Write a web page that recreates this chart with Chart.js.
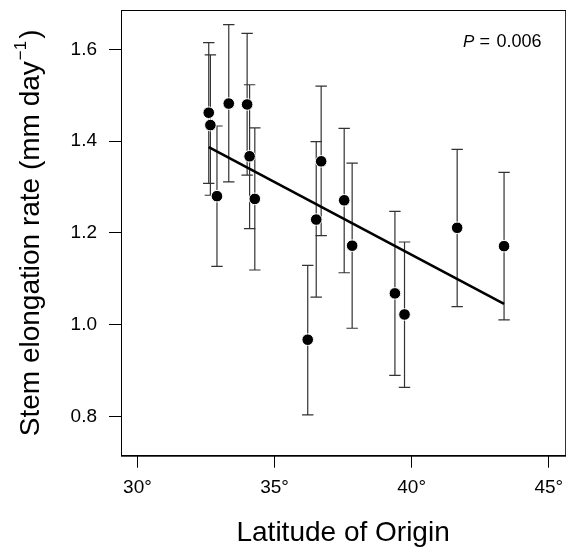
<!DOCTYPE html>
<html>
<head>
<meta charset="utf-8">
<script src="https://cdn.jsdelivr.net/npm/chart.js@4.4.1/dist/chart.umd.min.js"></script>
<style>
  html, body { margin: 0; padding: 0; background: #fff; overflow: hidden; }
  canvas { display: block; }
</style>
</head>
<body>
<canvas id="myChart" width="572" height="550"></canvas>
<script>
const ctx = document.getElementById('myChart');

// values
const latitude = [32.60, 32.66, 32.90, 33.33, 34.00, 34.09, 34.28, 36.21, 36.52, 36.70, 37.54, 37.83, 39.39, 39.74, 41.66, 43.37];
const rate     = [1.462, 1.435, 1.280, 1.482, 1.480, 1.367, 1.274, 0.967, 1.229, 1.356, 1.271, 1.172, 1.068, 1.022, 1.211, 1.171];
const rateHigh = [1.615, 1.588, 1.433, 1.654, 1.635, 1.523, 1.429, 1.129, 1.399, 1.520, 1.428, 1.352, 1.247, 1.180, 1.382, 1.332];
const rateLow  = [1.308, 1.282, 1.127, 1.311, 1.326, 1.209, 1.119, 0.803, 1.060, 1.194, 1.113, 0.992, 0.889, 0.863, 1.039, 1.010];

// fitted line end points
const fitLat  = [32.60, 43.37];
const fitRate = [1.387, 1.045];

const xTicks = [30, 35, 40, 45];
const yTicks = [0.8, 1.0, 1.2, 1.4, 1.6];

const FONT = '"Liberation Sans", Arial, Helvetica, sans-serif';

const errorBars = {
    id: 'errorBars',
    beforeDatasetsDraw(chart) {
        const c = chart.ctx, xs = chart.scales.x, ys = chart.scales.y;
        c.save();
        c.strokeStyle = '#333';
        c.lineWidth = 1.2;
        for (let i = 0; i < latitude.length; i++) {
            const px = xs.getPixelForValue(latitude[i]);
            const top = ys.getPixelForValue(rateHigh[i]);
            const bot = ys.getPixelForValue(rateLow[i]);
            c.beginPath();
            c.moveTo(px, top); c.lineTo(px, bot);
            c.moveTo(px - 5.7, top); c.lineTo(px + 5.7, top);
            c.moveTo(px - 5.7, bot); c.lineTo(px + 5.7, bot);
            c.stroke();
        }
        c.restore();
    }
};

const extras = {
    id: 'extras',
    afterDraw(chart) {
        const c = chart.ctx, a = chart.chartArea;
        c.save();
        // box
        c.strokeStyle = '#000';
        c.lineWidth = 1;
        c.strokeRect(Math.round(a.left) + 0.5, Math.round(a.top) + 0.5, a.right - a.left, a.bottom - a.top);

        // y axis title with superscript
        const main = 'Stem elongation rate (mm day';
        const sup = '\u22121';
        c.fillStyle = '#000';
        c.font = '28px ' + FONT;
        const w1 = c.measureText(main).width;
        const w3 = c.measureText(')').width;
        c.font = '17px ' + FONT;
        const w2 = c.measureText(sup).width;
        const total = w1 + w2 + 3 + w3;
        c.translate(39, (a.top + a.bottom) / 2);
        c.rotate(-Math.PI / 2);
        c.textBaseline = 'alphabetic';
        c.textAlign = 'left';
        let x0 = -total / 2;
        c.font = '28px ' + FONT;
        c.fillText(main, x0, 0);
        c.font = '17px ' + FONT;
        c.fillText(sup, x0 + w1 + 1, -13.5);
        c.font = '28px ' + FONT;
        c.fillText(')', x0 + w1 + w2 + 3, 0);
        c.restore();

        // P value
        c.save();
        c.fillStyle = '#000';
        c.textBaseline = 'alphabetic';
        c.textAlign = 'left';
        c.font = 'italic 17px ' + FONT;
        c.fillText('P', 463, 46.7);
        c.font = '18px ' + FONT;
        c.fillText('=', 479.5, 46.7);
        c.fillText('0.006', 496.5, 46.7);
        c.restore();
    }
};

new Chart(ctx, {
    type: 'scatter',
    data: {
        datasets: [{
            type: 'line',
            data: fitLat.map((v, i) => ({ x: v, y: fitRate[i] })),
            borderColor: '#000',
            borderWidth: 2.6,
            pointRadius: 0,
            fill: false,
            order: 2
        }, {
            data: latitude.map((v, i) => ({ x: v, y: rate[i] })),
            backgroundColor: '#000',
            borderColor: '#fff',
            borderWidth: 1,
            pointRadius: 5.8,
            order: 1
        }]
    },
    options: {
        responsive: false,
        animation: false,
        events: [],
        layout: { padding: { top: 10, right: 4.5, left: 0, bottom: 0 } },
        plugins: { legend: { display: false }, tooltip: { enabled: false } },
        scales: {
            x: {
                type: 'linear',
                min: 29.4,
                max: 45.6,
                afterFit: s => { s.height = 94.3; s.paddingLeft = 0; s.paddingRight = 0; },
                afterBuildTicks: s => { s.ticks = xTicks.map(v => ({ value: v })); },
                grid: { drawOnChartArea: false, drawTicks: true, tickLength: 12, color: '#000', lineWidth: 1 },
                border: { display: true, color: '#000', width: 1 },
                ticks: {
                    padding: 9,
                    color: '#000',
                    font: { family: FONT, size: 19 },
                    maxRotation: 0,
                    callback: v => v + '\u00b0'
                },
                title: {
                    display: true,
                    text: 'Latitude of Origin',
                    color: '#000',
                    font: { family: FONT, size: 28 },
                    padding: { top: 0, bottom: 0 }
                }
            },
            y: {
                min: 0.714,
                max: 1.686,
                afterFit: s => { s.width = 121; s.paddingTop = 0; s.paddingBottom = 0; },
                afterBuildTicks: s => { s.ticks = yTicks.map(v => ({ value: v })); },
                grid: { drawOnChartArea: false, drawTicks: true, tickLength: 12, color: '#000', lineWidth: 1 },
                border: { display: true, color: '#000', width: 1 },
                ticks: {
                    padding: 12,
                    color: '#000',
                    font: { family: FONT, size: 19 },
                    callback: v => v.toFixed(1)
                }
            }
        }
    },
    plugins: [errorBars, extras]
});
</script>
</body>
</html>
